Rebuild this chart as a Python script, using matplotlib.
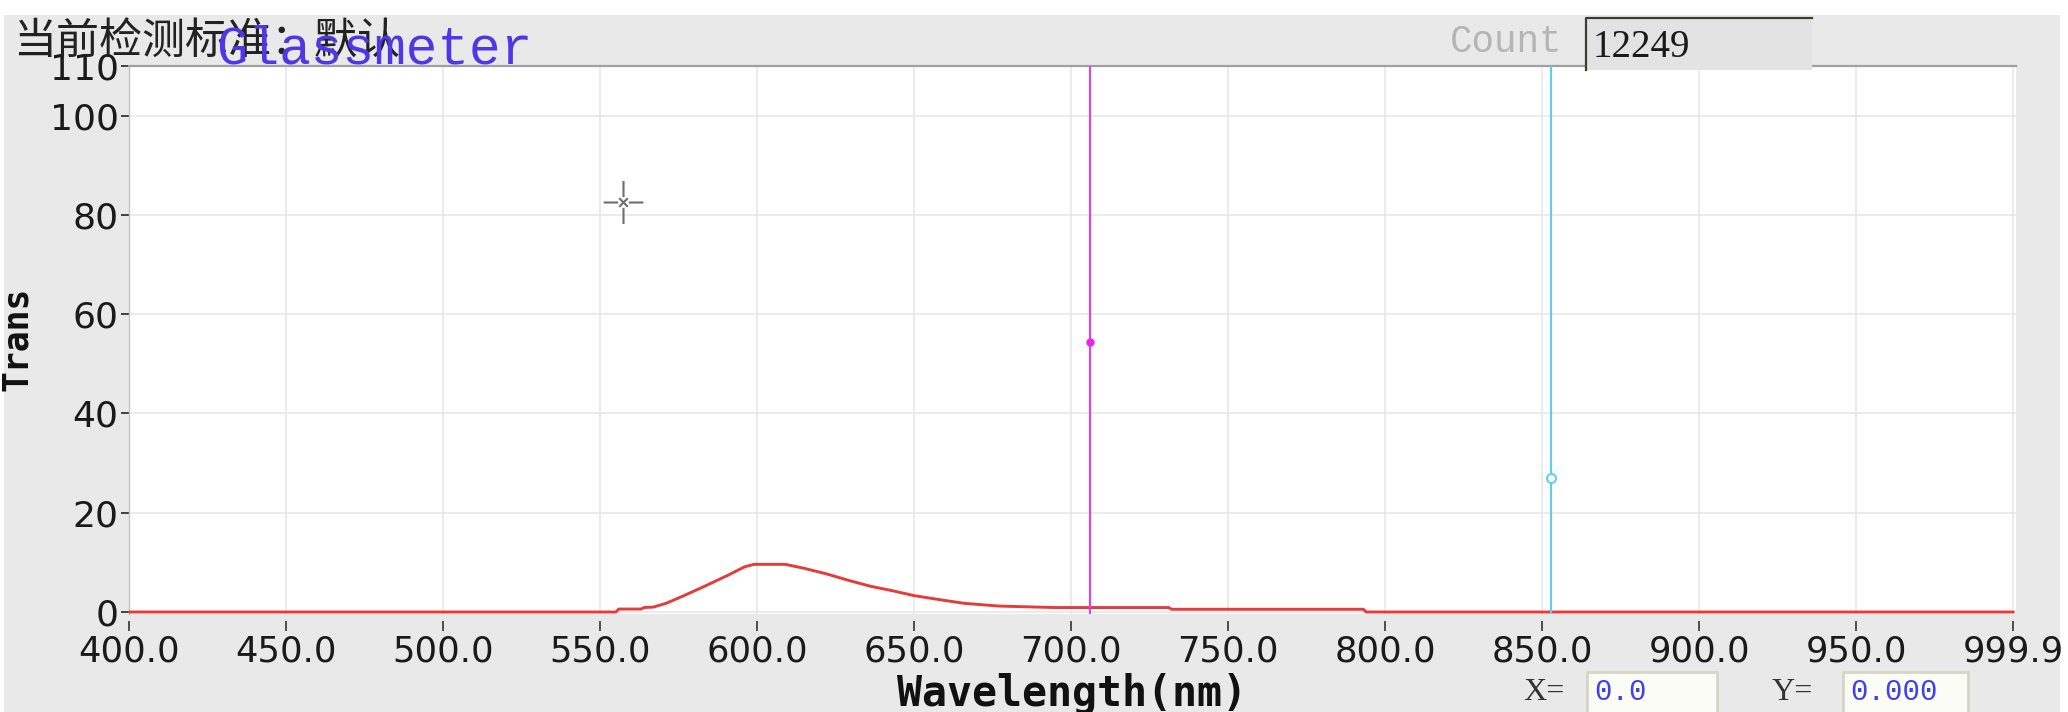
import matplotlib
matplotlib.use("Agg")
import matplotlib.pyplot as plt
from matplotlib.patches import Rectangle
from matplotlib.lines import Line2D
from matplotlib.path import Path

# ---------------- data ----------------
wavelength = [400, 555, 556, 563, 564, 567, 571, 576, 584, 591, 596, 599, 609, 615, 622,
              629, 636, 643, 650, 659, 666, 677, 695, 731, 732, 793, 794, 999.9]
trans = [0.0, 0.0, 0.6, 0.6, 0.9, 1.0, 1.75, 3.1, 5.4, 7.5, 9.1, 9.6, 9.6, 8.8, 7.7,
         6.4, 5.2, 4.3, 3.3, 2.4, 1.75, 1.2, 0.9, 0.9, 0.55, 0.55, 0.0, 0.0]

magenta_x, magenta_y = 706.0, 54.4
cyan_x, cyan_y = 852.8, 27.0
cursor_x, cursor_y = 557.3, 82.7

xticks = [400, 450, 500, 550, 600, 650, 700, 750, 800, 850, 900, 950, 999.9]
xticklabels = ["%.1f" % v for v in xticks]
yticks = [0, 20, 40, 60, 80, 100, 110]
yticklabels = [str(v) for v in yticks]

title_cn = "当前检测标准：默认"
title_en = "Glassmeter"
count_label = "Count"
count_value = "12249"
x_readout = "0.0"
y_readout = "0.000"

# ---------------- figure ----------------
W, H = 2068, 712
fig = plt.figure(figsize=(W / 100, H / 100), dpi=100, facecolor="white")


def fx(x):
    return x / W


def fy(y):
    return 1 - y / H


# gray panel
fig.add_artist(Rectangle((fx(4), 0), fx(2060) - fx(4), fy(15), transform=fig.transFigure,
                         facecolor="#e9e9e9", edgecolor="none", zorder=-1))

ax = fig.add_axes([fx(129), fy(614), fx(2016) - fx(129), fy(66) - fy(614)])
ax.set_facecolor("white")
ax.set_xlim(400, 1000.85)
ax.set_ylim(-0.4, 110)

ax.grid(True, color="#e6e6e6", lw=1.1)
ax.set_axisbelow(True)

ax.plot(wavelength, trans, color="#e63b3b", lw=2.1, zorder=3, solid_joinstyle="miter")

ax.axvline(magenta_x, color="#e040e6", lw=1.5, zorder=4)
ax.plot([magenta_x], [magenta_y], "o", ms=5, color="#ee22ee", zorder=5)
ax.axvline(cyan_x, color="#5cd0ea", lw=1.5, zorder=4)
ax.plot([cyan_x], [cyan_y], "o", ms=6.5, mfc="white", mec="#5cd0ea", mew=1.4, zorder=5)

# cursor crosshair marker
g = 0.25
verts = [(-0.92, 0), (-g, 0), (g, 0), (0.92, 0), (0, -1), (0, -g), (0, g), (0, 1),
         (-0.2, -0.2), (0.2, 0.2), (-0.2, 0.2), (0.2, -0.2)]
codes = [Path.MOVETO, Path.LINETO] * 6
cross = Path(verts, codes)
ax.plot([cursor_x], [cursor_y], marker=cross, ms=31, mew=1.5, mec="#6e6e6e",
        ls="none", zorder=5)

for s in ["right", "bottom"]:
    ax.spines[s].set_visible(False)
ax.spines["bottom"].set_position(("outward", 5))
ax.spines["top"].set_color("#a0a0a0")
ax.spines["top"].set_linewidth(1.6)
ax.spines["left"].set_color("#c4c4c4")
ax.spines["left"].set_linewidth(1.0)

ax.set_xticks(xticks)
ax.set_xticklabels(xticklabels)
ax.set_yticks(yticks)
ax.set_yticklabels(yticklabels)
ax.tick_params(axis="x", direction="out", length=7, width=1.2, color="#333333",
               labelsize=25.5, labelcolor="#1a1a1a", pad=3)
ax.tick_params(axis="y", direction="out", length=6, width=1.3, color="#333333",
               labelsize=26, labelcolor="#1a1a1a", pad=1.5)
for lab in ax.get_xticklabels() + ax.get_yticklabels():
    lab.set_family("DejaVu Sans")
    lab.set_clip_on(False)

# axis titles
fig.text(fx(1072), fy(694), "Wavelength(nm)", family="DejaVu Sans Mono", weight="bold",
         fontsize=30, ha="center", va="center", color="#111111")
fig.text(fx(17), fy(339), "Trans", family="DejaVu Sans Mono", weight="bold",
         fontsize=25, ha="center", va="center", rotation=90, color="#111111")

# titles
fig.text(fx(13), fy(43), title_cn, family=["Noto Sans CJK SC", "DejaVu Sans"],
         fontsize=31, ha="left", va="center", color="#222222", zorder=5)
fig.text(fx(216), fy(63), title_en, family="Liberation Mono", fontsize=38,
         ha="left", va="baseline", color="#5036e6", zorder=6)

# count
fig.text(fx(1450), fy(52), count_label, family="Liberation Mono", fontsize=27,
         ha="left", va="baseline", color="#b5b5b5", zorder=5)
fig.add_artist(Rectangle((fx(1586), fy(70)), fx(1812) - fx(1586), fy(18) - fy(70),
                         transform=fig.transFigure, facecolor="#e3e3e3",
                         edgecolor="none", zorder=5))
fig.add_artist(Line2D([fx(1586), fx(1586), fx(1812)], [fy(70), fy(18), fy(18)],
                      transform=fig.transFigure, color="#3c3c30", lw=1.6, zorder=6))
fig.text(fx(1593), fy(57), count_value, family="Liberation Serif", fontsize=28,
         ha="left", va="baseline", color="#1a1a1a", zorder=7)

# readout boxes
for (lx, label, bx0, bx1, val) in [(1523, "X=", 1587, 1717, x_readout),
                                   (1772, "Y=", 1843, 1968, y_readout)]:
    fig.text(fx(lx), fy(692), label, family="Liberation Serif", fontsize=23,
             ha="left", va="center", color="#333333", zorder=5)
    fig.add_artist(Rectangle((fx(bx0), fy(716)), fx(bx1) - fx(bx0), fy(672) - fy(716),
                             transform=fig.transFigure, facecolor="#fcfcf7",
                             edgecolor="#d6d6c4", lw=2, zorder=5))
    fig.text(fx(bx0 + 7), fy(692), val, family="Liberation Mono", fontsize=21,
             ha="left", va="center", color="#3f3ff0", zorder=6)

fig.savefig("out.png", dpi=100, facecolor="white")
